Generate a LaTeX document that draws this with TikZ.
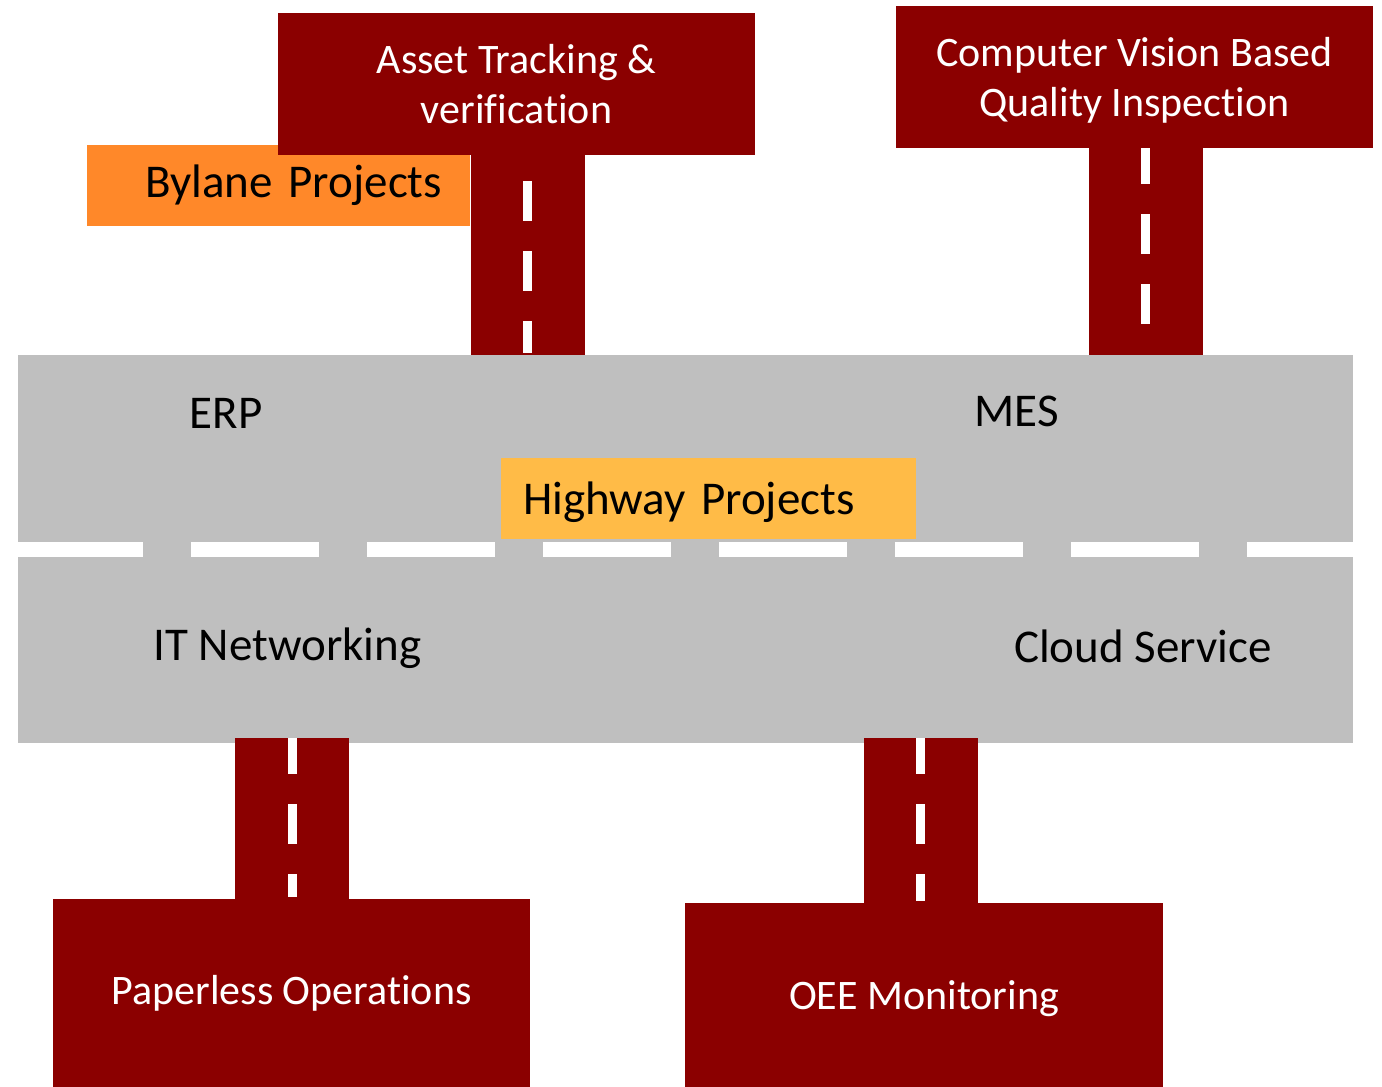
\documentclass[tikz,border=0pt]{standalone}
\usepackage{fontspec}
\setmainfont{Carlito}[Ligatures=NoCommon]
\usepackage{xcolor}
\definecolor{signred}{HTML}{8B0000}
\definecolor{bylane}{HTML}{FF8829}
\definecolor{highway}{HTML}{FFBB47}
\definecolor{asphalt}{HTML}{BFBFBF}
\tikzset{sign/.style={fill=signred,text=white,inner sep=0pt,align=center,minimum width=477pt,font={\fontsize{42pt}{50pt}\selectfont}}}
\tikzset{tag/.style={fill=#1,inner ysep=0pt,minimum height=81pt,font={\fontsize{47pt}{56pt}\selectfont}}}
\tikzset{word/.style={anchor=base,inner sep=0pt,font={\fontsize{47pt}{56pt}\selectfont}}}
\tikzset{stem/.style={draw=signred,line width=114pt}}
\tikzset{midline/.style={draw=white,line width=9pt,dash pattern=on 40pt off 30pt,dash phase=#1,shorten >=2pt}}
\tikzset{midline/.default={4pt}}
\tikzset{lane/.style={draw=white,line width=15pt,dash pattern=on 128pt off 48pt,dash phase=3pt}}

\begin{document}
\begin{tikzpicture}[x=1pt,y=-1pt]
        \useasboundingbox (0,0) rectangle (1382,1087);
        \node[tag=bylane,text width=327pt,inner xsep=28pt,align=right] (bylane) at (278.5,185.5) {Bylane Projects};
        \node[sign,minimum height=142pt] (asset) at (516.5,84) {Asset Tracking \&\\verification};
        \node[sign,minimum height=142pt,text depth=0pt] (cv) at (1134.5,77) {Computer Vision Based\\Quality Inspection};
        \node[fill=asphalt,inner sep=0pt,minimum width=1335pt,minimum height=388pt] (road) at (685.5,549) {};
        \draw[lane] (road.west) -- (road.east);
        \node[tag=highway,text width=371pt,inner xsep=22pt,align=left,text depth=0pt] (highway) at (708.5,498.5) {Highway Projects};
        \foreach \n/\dx/\ph in {asset/11/44, cv/11/4}{
            \draw[stem] ([xshift=\dx]\n.south) -- ([xshift=\dx]\n.south |- road.north);
            \draw[midline=\ph] ([xshift=\dx]\n.south) -- ([xshift=\dx]\n.south |- road.north);
        }
        \node[sign,minimum height=188pt] (paper) at (291.5,993) {Paperless Operations};
        \node[sign,minimum height=184pt,minimum width=478pt,text depth=0pt] (oee) at (924,995) {OEE Monitoring};
        \foreach \n/\dx in {paper/0.5, oee/-3.5}{
            \draw[stem] ([xshift=\dx,yshift=5]road.south -| \n.north) -- ([xshift=\dx]\n.north);
            \draw[midline] ([xshift=\dx,yshift=5]road.south -| \n.north) -- ([xshift=\dx]\n.north);
        }
        \node[word] (erp) at (226,428) {ERP};
        \node[word] (mes) at (1016.5,426) {MES};
        \node[word] (itnet) at (287.5,660) {IT Networking};
        \node[word] (cloud) at (1143,662) {Cloud Service};
    \end{tikzpicture}
\end{document}
